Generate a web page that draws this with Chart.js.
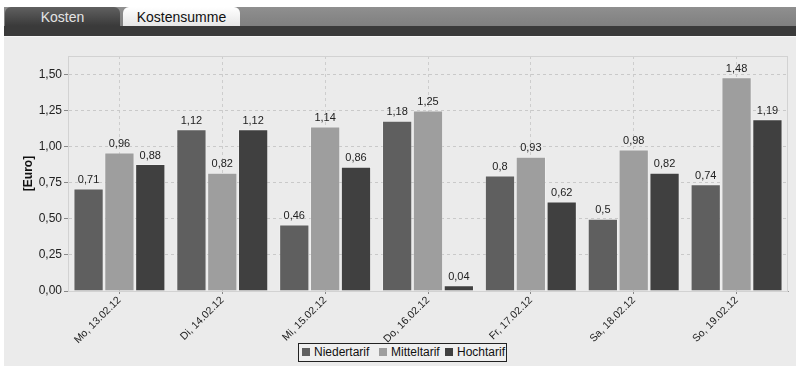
<!DOCTYPE html>
<html>
<head>
<meta charset="utf-8">
<script src="https://cdn.jsdelivr.net/npm/chart.js@4/dist/chart.umd.min.js"></script>
<style>
  html, body { margin: 0; padding: 0; background: #ffffff; width: 796px; height: 369px; overflow: hidden; font-family: "Liberation Sans", Arial, sans-serif; }
  .tabbar { position: absolute; left: 4px; top: 7px; width: 792px; height: 20px; background: linear-gradient(#8f8f8f, #7f7f7f); }
  .band { position: absolute; left: 4px; top: 26px; width: 792px; height: 10px; background: #3a3a3a; }
  .tab { position: absolute; top: 7px; height: 20px; border-radius: 6px 6px 0 0; font-size: 14px; line-height: 20px; text-align: center; }
  .tab.dark { left: 5px; width: 115px; height: 29px; background: linear-gradient(#606060, #3a3a3a 65%); color: #e4e4e4; }
  .tab.light { left: 123px; width: 117px; height: 19px; background: linear-gradient(#ffffff, #e6e6e6); color: #111; }
  .panel { position: absolute; left: 4px; top: 36px; width: 792px; height: 330px; background: #ebebeb; border-top: 1px solid #f6f6f6; box-sizing: border-box; }
  .panel canvas { position: absolute; left: 0; top: 0; }
  .legend { position: absolute; left: 298px; top: 343px; width: 209px; height: 19px; border: 1px solid #222; box-sizing: border-box; background: #efefef; font-size: 12px; line-height: 17px; color: #111; white-space: nowrap; }
  .legend span.item { position: absolute; top: 0; }
  .legend i { display: inline-block; width: 8px; height: 8px; margin-right: 4px; vertical-align: -0px; }
</style>
</head>
<body>
<div class="tabbar"></div>
<div class="band"></div>
<div class="tab dark">Kosten</div>
<div class="tab light">Kostensumme</div>
<div class="panel"><canvas id="c" width="792" height="330"></canvas></div>
<div class="legend" id="legend"></div>
<script>
const categories = ["Mo, 13.02.12", "Di, 14.02.12", "Mi, 15.02.12", "Do, 16.02.12", "Fr, 17.02.12", "Sa, 18.02.12", "So, 19.02.12"];
const seriesNames = ["Niedertarif", "Mitteltarif", "Hochtarif"];
const niedertarif = [0.71, 1.12, 0.46, 1.18, 0.8, 0.5, 0.74];
const mitteltarif = [0.96, 0.82, 1.14, 1.25, 0.93, 0.98, 1.48];
const hochtarif = [0.88, 1.12, 0.86, 0.04, 0.62, 0.82, 1.19];
const seriesColors = ["#5f5f5f", "#9e9e9e", "#404040"];
const axisTitle = "[Euro]";

const de = v => String(v).replace('.', ',');

// Legend in its framed box below the chart
const legendEl = document.getElementById('legend');
const legendX = [3, 80, 146];
seriesNames.forEach((name, i) => {
  const s = document.createElement('span');
  s.className = 'item';
  s.style.left = legendX[i] + 'px';
  s.innerHTML = '<i style="background:' + seriesColors[i] + '"></i>' + name;
  legendEl.appendChild(s);
});

// Light frame around the plot area
const frame = {
  id: 'frame',
  beforeDatasetsDraw(chart) {
    const { ctx, chartArea: a } = chart;
    ctx.save();
    ctx.strokeStyle = '#d2d2d2';
    ctx.lineWidth = 1;
    ctx.strokeRect(a.left + 0.5, a.top + 0.5, a.right - a.left - 1, a.bottom - a.top);
    ctx.restore();
  }
};

// Value labels above each bar
const valueLabels = {
  id: 'valueLabels',
  afterDatasetsDraw(chart) {
    const { ctx } = chart;
    ctx.save();
    ctx.font = '11px "Liberation Sans", Arial, sans-serif';
    ctx.fillStyle = '#222';
    ctx.textAlign = 'center';
    ctx.textBaseline = 'bottom';
    chart.data.datasets.forEach((ds, di) => {
      chart.getDatasetMeta(di).data.forEach((bar, i) => {
        ctx.fillText(de(ds.data[i]), bar.x, bar.y - 3);
      });
    });
    ctx.restore();
  }
};

const datasets = [niedertarif, mitteltarif, hochtarif].map((d, i) => ({
  label: seriesNames[i],
  data: d,
  backgroundColor: seriesColors[i],
  borderColor: 'rgba(255,255,255,0.25)',
  borderWidth: 1,
  categoryPercentage: 0.9,
  barPercentage: 0.98
}));

new Chart(document.getElementById('c'), {
  type: 'bar',
  data: { labels: categories, datasets },
  plugins: [frame, valueLabels],
  options: {
    responsive: false,
    animation: false,
    layout: { padding: { left: 0, right: 8, top: 19, bottom: 0 } },
    plugins: { legend: { display: false }, tooltip: { enabled: false } },
    scales: {
      x: {
        afterFit(s) { s.height = 76; },
        grid: { offset: false, color: '#cdcdcd', tickColor: '#888', tickLength: 3, drawOnChartArea: true },
        border: { color: '#9a9a9a', dash: [3, 3] },
        ticks: {
          minRotation: 45, maxRotation: 45, padding: 0,
          color: '#222',
          font: { family: '"Liberation Sans", Arial, sans-serif', size: 10.5 }
        }
      },
      y: {
        min: 0,
        max: 1.628,
        afterFit(s) { s.width = 64; },
        grid: { color: '#c9c9c9', tickColor: '#888', tickLength: 4 },
        border: { color: '#9a9a9a', dash: [3, 3] },
        ticks: {
          stepSize: 0.25, includeBounds: false, padding: 2,
          color: '#222',
          font: { family: '"Liberation Sans", Arial, sans-serif', size: 12 },
          callback: v => v.toFixed(2).replace('.', ',')
        },
        title: {
          display: true, text: axisTitle, color: '#111',
          padding: { top: 17, bottom: 0 },
          font: { family: '"Liberation Sans", Arial, sans-serif', size: 12, weight: 'bold' }
        }
      }
    }
  }
});
</script>
</body>
</html>
